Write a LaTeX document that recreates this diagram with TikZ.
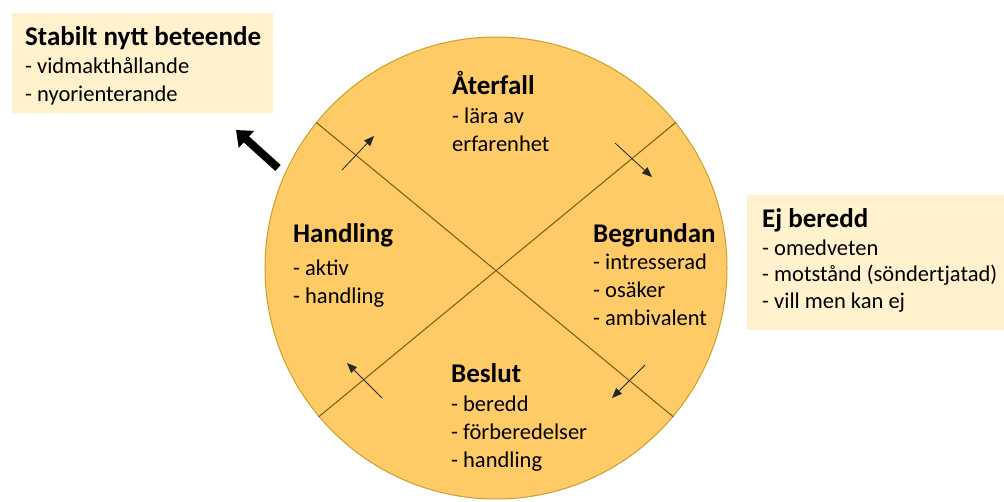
\documentclass[tikz,border=0pt]{standalone}
\usepackage{fontspec}
\setmainfont{Carlito}
\usetikzlibrary{arrows.meta, positioning}
\definecolor{wheelfill}{HTML}{FFCB66}
\definecolor{wheeldraw}{HTML}{C9A02E}
\definecolor{spoke}{HTML}{7A5C10}
\definecolor{notebg}{HTML}{FFF2CC}
\tikzset{
    stagetitle/.style={
        anchor=base west, inner sep=0pt, font=\fontsize{27}{30}\selectfont\bfseries
    },
    stageitems/.style={
        anchor=base west, inner sep=0pt, align=left, font=\fontsize{22.5}{28}\selectfont
    },
    notebox/.style={
        fill=notebg, draw=none, anchor=north west, inner sep=0pt
    },
    spokeline/.style={
        draw=spoke, line width=1pt
    },
    turn/.style={
        -{Triangle[length=10pt,width=8pt]}, draw=black!85, line width=0.8pt
    },
    exitarrow/.style={
        -{Triangle[length=14pt,width=22pt]}, black, line width=8pt
    }
}
\begin{document}
\begin{tikzpicture}[x=1pt, y=-1pt]
    \useasboundingbox (0,0) rectangle (1004,501);

    % side notes
    \node[notebox, minimum width=261pt, minimum height=100pt] (stablebox)   at (12,13)  {};
    \node[notebox, minimum width=260pt, minimum height=135pt] (unreadybox)  at (747,195) {};

    % the wheel
    \node[circle, fill=wheelfill, draw=wheeldraw, line width=1pt, minimum size=462pt, inner sep=0pt]
        (wheel) at (496,268) {};
    \draw[spokeline] (wheel.141) -- (wheel.320);
    \draw[spokeline] (wheel.39)  -- (wheel.220);

    % turning arrows
    \coordinate (tl1) at (342,170); \coordinate (tl2) at (374,136);
    \coordinate (tr1) at (615,143); \coordinate (tr2) at (652,177);
    \coordinate (br1) at (645,365); \coordinate (br2) at (612,398);
    \coordinate (bl1) at (382,398); \coordinate (bl2) at (347,363);
    \draw[turn] (tl1) -- (tl2);
    \draw[turn] (tr1) -- (tr2);
    \draw[turn] (br1) -- (br2);
    \draw[turn] (bl1) -- (bl2);

    % way out
    \coordinate (exittail) at (278,168);
    \coordinate (exithead) at (236,130);
    \draw[exitarrow] (exittail) -- (exithead);

    % texts (items anchored on their last line)
    \node[stagetitle] (stabletitle)  at (25,45)  {Stabilt nytt beteende};
    \node[stageitems] (stableitems)  at (25,101) {- vidmakthållande\\- nyorienterande};

    \node[stagetitle] (relapsetitle) at (452,94)  {Återfall};
    \node[stageitems] (relapseitems) at (452,151) {- lära av\\erfarenhet};

    \node[stagetitle] (actiontitle)  at (293,242) {Handling};
    \node[stageitems] (actionitems)  at (293,303) {- aktiv\\- handling};

    \node[stagetitle] (reasontitle)  at (593,242) {Begrundan};
    \node[stageitems] (reasonitems)  at (593,325) {- intresserad\\- osäker\\- ambivalent};

    \node[stagetitle] (decidetitle)  at (451,382) {Beslut};
    \node[stageitems] (decideitems)  at (451,467) {- beredd\\- förberedelser\\- handling};

    \node[stagetitle] (unreadytitle) at (762,227) {Ej beredd};
    \node[stageitems, font=\fontsize{22.5}{26.5}\selectfont] (unreadyitems) at (762,308)
        {- omedveten\\- motstånd (söndertjatad)\\- vill men kan ej};

\end{tikzpicture}
\end{document}
